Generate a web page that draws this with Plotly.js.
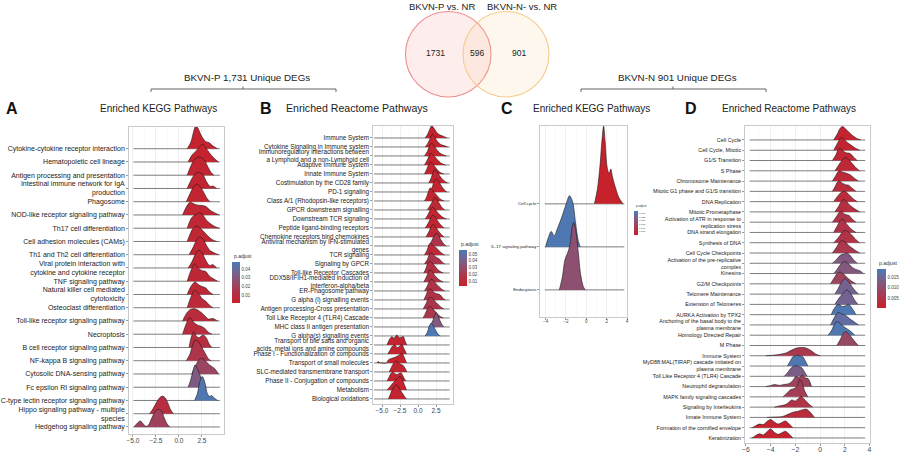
<!DOCTYPE html>
<html><head><meta charset="utf-8">
<script src="https://cdn.plot.ly/plotly-3.0.1.min.js"></script>
<style>html,body{margin:0;padding:0;background:#fff;} #chart{width:900px;height:452px;}</style>
</head><body><div id="chart"></div>
<script>
// ---------------- Panel A : KEGG (BKVN-P) ----------------
const A_terms = ["Cytokine-cytokine receptor interaction","Hematopoietic cell lineage","Antigen processing and presentation","Intestinal immune network for IgA<br>production","Phagosome","NOD-like receptor signaling pathway","Th17 cell differentiation","Cell adhesion molecules (CAMs)","Th1 and Th2 cell differentiation","Viral protein interaction with<br>cytokine and cytokine receptor","TNF signaling pathway","Natural killer cell mediated<br>cytotoxicity","Osteoclast differentiation","Toll-like receptor signaling pathway","Necroptosis","B cell receptor signaling pathway","NF-kappa B signaling pathway","Cytosolic DNA-sensing pathway","Fc epsilon RI signaling pathway","C-type lectin receptor signaling pathway","Hippo signaling pathway - multiple<br>species","Hedgehog signaling pathway"];
const A_padj = [0.003,0.003,0.004,0.004,0.004,0.005,0.005,0.005,0.005,0.005,0.006,0.006,0.007,0.008,0.009,0.010,0.014,0.022,0.032,0.046,0.010,0.020];
const A_ridgeX = [
 [0.9,1.3,1.6,1.85,2.1,2.5,2.9,3.3,3.7,4.2],
 [1.0,1.4,1.8,2.2,2.55,2.9,3.3,3.8,4.3],
 [0.9,1.3,1.7,2.2,2.7,3.1,3.5,3.8],
 [0.9,1.3,1.7,2.15,2.6,3.0,3.4,3.7,4.1],
 [0.8,1.2,1.6,1.9,2.3,2.7,3.1,3.4],
 [0.4,0.8,1.2,1.6,2.0,2.5,2.9,3.4,3.9,4.4],
 [0.9,1.3,1.6,1.9,2.2,2.6,3.0,3.5,4.0,4.4],
 [0.9,1.3,1.6,1.9,2.3,2.7,3.1,3.6,4.1],
 [1.1,1.5,1.9,2.2,2.6,3.0,3.4,3.8,4.3],
 [1.0,1.4,1.8,2.15,2.5,2.9,3.3,3.7,4.1],
 [0.9,1.3,1.7,2.1,2.5,2.9,3.3,3.7,4.2],
 [0.9,1.3,1.75,2.1,2.5,2.9,3.3,3.7],
 [0.9,1.3,1.7,2.1,2.5,2.9,3.3,3.7],
 [0.4,0.8,1.2,1.6,2.0,2.4,2.8,3.2,3.7,4.2],
 [0.4,0.8,1.2,1.6,2.0,2.4,2.8,3.2,3.6],
 [1.1,1.35,1.6,1.9,2.2,2.5,2.7,3.0,3.3,3.6],
 [0.8,1.2,1.5,1.75,2.1,2.5,2.9,3.2,3.5],
 [1.4,1.8,2.1,2.45,2.8,3.2,3.6,3.9,4.3],
 [1.0,1.3,1.55,1.75,2.0,2.3,2.6,2.9],
 [1.7,2.0,2.3,2.55,2.8,3.1,3.35,3.55,3.8,4.2],
 [-3.2,-2.8,-2.4,-2.1,-1.8,-1.5,-1.2,-0.9,-0.6],
 [-4.9,-4.5,-4.2,-3.9,-3.6,-3.3,-3.0,-2.6,-2.2,-1.9,-1.6,-1.3,-1.0]
];
const A_ridgeH = [
 [0,0.5,1.3,1.76,1.5,0.9,0.55,0.45,0.2,0],
 [0,0.5,0.8,1.1,1.33,1.1,0.7,0.3,0],
 [0,0.7,1.2,1.38,1.2,0.7,0.2,0],
 [0,0.6,1.05,1.23,1.05,0.5,0.15,0.18,0],
 [0,0.6,1.15,1.33,1.15,0.7,0.2,0],
 [0,0.6,0.96,0.85,0.75,0.72,0.65,0.35,0.15,0],
 [0,0.7,0.95,1.05,1.18,1.0,0.6,0.3,0.1,0],
 [0,0.7,1.05,1.16,1.0,0.75,0.45,0.15,0],
 [0,0.5,1.1,1.33,1.2,0.7,0.3,0.15,0],
 [0,0.45,1.05,1.33,1.15,0.6,0.2,0.25,0],
 [0,0.8,1.3,1.0,0.8,0.75,0.4,0.2,0],
 [0,0.6,0.95,0.75,0.6,0.5,0.2,0],
 [0,0.8,1.3,1.1,0.7,0.5,0.2,0],
 [0,0.55,0.85,0.93,0.85,0.65,0.4,0.15,0.18,0],
 [0,0.8,1.26,0.9,0.7,0.6,0.45,0.15,0],
 [0,0.8,1.18,0.85,0.75,0.9,0.93,0.7,0.25,0],
 [0,0.5,1.2,1.56,1.45,1.0,0.5,0.15,0],
 [0,0.6,1.0,1.18,1.05,0.75,0.55,0.4,0],
 [0,0.6,1.3,1.69,1.4,0.9,0.4,0],
 [0,0.5,1.5,1.81,1.4,0.5,0.3,0.38,0.2,0],
 [0,0.4,0.9,1.2,1.33,1.2,0.8,0.3,0],
 [0,0.3,0.45,0.25,0.05,0.15,0.6,1.15,1.33,1.2,0.7,0.25,0]
];
const A_span = [-4.95, 4.45];
const A_cbTicks = [0.01,0.02,0.03,0.04];

// ---------------- Panel B : Reactome (BKVN-P) ----------------
const B_terms = ["Immune System","Cytokine Signaling in Immune system","Immunoregulatory interactions between<br>a Lymphoid and a non-Lymphoid cell","Adaptive Immune System","Innate Immune System","Costimulation by the CD28 family","PD-1 signaling","Class A/1 (Rhodopsin-like receptors)","GPCR downstream signalling","Downstream TCR signaling","Peptide ligand-binding receptors","Chemokine receptors bind chemokines","Antiviral mechanism by IFN-stimulated<br>genes","TCR signaling","Signaling by GPCR","Toll-like Receptor Cascades","DDX58/IFIH1-mediated induction of<br>interferon-alpha/beta","ER-Phagosome pathway","G alpha (i) signalling events","Antigen processing-Cross presentation","Toll Like Receptor 4 (TLR4) Cascade","MHC class II antigen presentation","G alpha(s) signalling events","Transport of bile salts and organic<br>acids, metal ions and amine compounds","Phase I - Functionalization of compounds","Transport of small molecules","SLC-mediated transmembrane transport","Phase II - Conjugation of compounds","Metabolism","Biological oxidations"];
const B_padj = [0.004,0.004,0.005,0.005,0.005,0.006,0.006,0.006,0.009,0.007,0.007,0.008,0.018,0.010,0.018,0.014,0.016,0.017,0.016,0.018,0.019,0.036,0.054,0.006,0.006,0.005,0.006,0.006,0.005,0.006];
const B_ridgeX = [
 [1.0,1.4,1.7,1.9,2.2,2.6,3.0,3.5,4.0],
 [1.0,1.4,1.7,2.0,2.3,2.7,3.1,3.6,4.1],
 [0.9,1.3,1.6,1.9,2.2,2.6,3.0,3.4,3.9],
 [0.9,1.3,1.6,1.8,2.1,2.5,2.9,3.3,3.8],
 [0.9,1.2,1.5,1.75,2.0,2.4,2.8,3.2,3.6],
 [1.5,1.8,2.1,2.35,2.6,2.9,3.3,3.7,4.1],
 [1.7,2.0,2.25,2.5,2.75,3.0,3.3,3.7,4.0],
 [0.9,1.2,1.5,1.7,2.0,2.4,2.8,3.2,3.6],
 [1.3,1.6,1.9,2.15,2.35,2.6,2.9,3.3,3.7],
 [1.0,1.4,1.7,2.0,2.3,2.7,3.1,3.5,3.9],
 [1.0,1.4,1.7,2.05,2.4,2.8,3.2,3.6],
 [1.1,1.5,1.8,2.1,2.4,2.8,3.2,3.6],
 [1.4,1.8,2.1,2.5,2.8,3.1,3.5,3.9],
 [0.9,1.25,1.5,1.75,2.1,2.5,2.9,3.3,3.7],
 [0.9,1.3,1.55,1.8,2.1,2.5,2.9,3.3,3.7],
 [0.8,1.1,1.35,1.6,1.9,2.3,2.7,3.1,3.5],
 [0.8,1.1,1.4,1.65,1.95,2.3,2.7,3.1,3.5],
 [0.9,1.2,1.5,1.8,2.1,2.5,2.9,3.3,3.7],
 [0.8,1.1,1.4,1.7,2.0,2.4,2.8,3.1,3.4,3.8],
 [0.7,1.0,1.35,1.65,2.0,2.4,2.8,3.2,3.6],
 [0.7,1.0,1.3,1.6,1.9,2.3,2.7,3.1,3.5],
 [1.5,1.8,2.1,2.35,2.5,2.7,3.0,3.3,3.6],
 [1.0,1.3,1.55,1.8,2.05,2.3,2.6,2.9,3.1],
 [-4.3,-4.0,-3.65,-3.3,-2.95,-2.6,-2.3,-2.05,-1.8,-1.55],
 [-4.2,-3.9,-3.55,-3.2,-2.9,-2.55,-2.25,-1.95,-1.6],
 [-5.7,-5.5,-5.3,-5.0,-4.4,-4.1,-3.7,-3.3,-2.9,-2.5,-2.2,-1.9,-1.6],
 [-4.0,-3.7,-3.4,-3.0,-2.7,-2.4,-2.1,-1.8,-1.55],
 [-4.3,-4.0,-3.75,-3.5,-3.2,-2.9,-2.6,-2.35,-2.0,-1.7],
 [-4.3,-3.9,-3.5,-3.1,-2.8,-2.5,-2.2,-1.9,-1.6],
 [-4.1,-3.8,-3.5,-3.2,-3.0,-2.7,-2.4,-2.1,-1.8,-1.6]
];
const B_ridgeH = [
 [0,0.5,1.1,1.37,1.1,0.6,0.35,0.2,0],
 [0,0.45,1.0,1.4,1.1,0.6,0.3,0.15,0],
 [0,0.5,1.1,1.4,1.2,0.7,0.35,0.15,0],
 [0,0.55,1.1,1.3,1.1,0.75,0.4,0.15,0],
 [0,0.5,1.05,1.3,1.15,0.75,0.35,0.12,0],
 [0,0.5,1.2,1.5,1.3,0.9,0.5,0.2,0],
 [0,0.6,1.2,1.45,1.3,1.0,0.6,0.2,0],
 [0,0.45,1.15,1.45,1.2,0.8,0.45,0.15,0],
 [0,0.4,0.8,1.15,1.4,1.2,0.8,0.3,0],
 [0,0.5,1.0,1.3,1.15,0.75,0.4,0.15,0],
 [0,0.5,1.0,1.4,1.2,0.7,0.3,0],
 [0,0.55,1.1,1.4,1.15,0.7,0.3,0],
 [0,0.4,0.9,1.37,1.25,0.8,0.3,0],
 [0,0.5,1.05,1.3,1.05,0.8,0.5,0.2,0],
 [0,0.5,1.0,1.25,1.05,0.75,0.6,0.25,0],
 [0,0.5,1.05,1.3,1.15,0.8,0.4,0.15,0],
 [0,0.45,1.0,1.35,1.2,0.75,0.4,0.15,0],
 [0,0.4,0.95,1.3,1.2,0.8,0.5,0.2,0],
 [0,0.5,1.05,1.25,1.0,0.75,0.65,0.55,0.25,0],
 [0,0.4,1.0,1.3,1.2,0.8,0.5,0.2,0],
 [0,0.45,1.0,1.3,1.15,0.8,0.45,0.15,0],
 [0,0.3,0.8,1.35,1.6,1.4,0.8,0.3,0],
 [0,0.4,1.05,1.4,1.25,0.85,0.4,0.1,0],
 [0,0.55,0.9,0.75,1.1,0.8,0.85,0.95,0.45,0],
 [0,0.4,0.85,1.0,0.7,0.85,1.05,0.6,0],
 [0,0.15,0.03,0,0,0.35,0.5,0.6,0.75,0.95,1.05,0.6,0],
 [0,0.5,0.95,1.2,1.0,0.85,0.75,0.4,0],
 [0,0.45,0.85,1.0,0.8,0.7,0.85,0.9,0.4,0],
 [0,0.35,0.75,1.05,1.3,1.5,1.2,0.6,0],
 [0,0.6,1.15,1.45,1.55,1.3,0.9,0.55,0.2,0]
];
const B_span = [-6.1, 4.4];
const B_cbTicks = [0.01,0.02,0.03,0.04,0.05];

// ---------------- Panel C : KEGG (BKVN-N) ----------------
const C_terms = ["Cell cycle","IL-17 signaling pathway","Endocytosis"];
const C_padj = [0.0005,0.032,0.018];
const C_ridgeX = [
 [0.8,1.1,1.35,1.55,1.7,1.85,2.05,2.25,2.4,2.6,2.9,3.2,3.6],
 [-4.0,-3.75,-3.45,-3.15,-2.8,-2.4,-2.0,-1.65,-1.35,-1.05,-0.8,-0.6],
 [-2.65,-2.35,-2.1,-1.85,-1.6,-1.4,-1.25,-1.05,-0.8,-0.55,-0.3,-0.1]
];
const C_ridgeH = [
 [0,0.35,0.9,1.5,1.81,1.45,0.85,0.7,0.81,0.6,0.35,0.15,0],
 [0,0.2,0.36,0.26,0.45,0.7,0.98,1.19,1.05,0.55,0.15,0],
 [0,0.3,0.7,0.85,1.05,1.45,1.57,1.4,0.9,0.35,0.08,0]
];
const C_span = [-4.07, 3.73];
const C_cbTicks = [0.005,0.010,0.015,0.020,0.025,0.030];

// ---------------- Panel D : Reactome (BKVN-N) ----------------
const D_terms = ["Cell Cycle","Cell Cycle, Mitotic","G1/S Transition","S Phase","Chromosome Maintenance","Mitotic G1 phase and G1/S transition","DNA Replication","Mitotic Prometaphase","Activation of ATR in response to<br>replication stress","DNA strand elongation","Synthesis of DNA","Cell Cycle Checkpoints","Activation of the pre-replicative<br>complex","Kinesins","G2/M Checkpoints","Telomere Maintenance","Extension of Telomeres","AURKA Activation by TPX2","Anchoring of the basal body to the<br>plasma membrane","Homology Directed Repair","M Phase","Immune System","MyD88:MAL(TIRAP) cascade initiated on<br>plasma membrane","Toll Like Receptor 4 (TLR4) Cascade","Neutrophil degranulation","MAPK family signaling cascades","Signaling by Interleukins","Innate Immune System","Formation of the cornified envelope","Keratinization"];
const D_padj = [0.001,0.0015,0.002,0.002,0.0025,0.003,0.003,0.004,0.005,0.005,0.005,0.006,0.012,0.012,0.008,0.014,0.014,0.018,0.016,0.018,0.009,0.006,0.018,0.013,0.008,0.007,0.005,0.003,0.001,0.001];
const D_ridgeX = [
 [1.1,1.4,1.6,1.8,2.0,2.3,2.6,2.9,3.3],
 [1.1,1.35,1.55,1.7,1.95,2.2,2.5,2.8,3.2],
 [1.0,1.3,1.45,1.6,1.85,2.1,2.4,2.7,3.0],
 [1.2,1.5,1.8,2.05,2.3,2.6,2.9,3.2],
 [1.0,1.25,1.45,1.6,1.85,2.15,2.45,2.8,3.1],
 [1.0,1.25,1.4,1.55,1.8,2.05,2.3,2.6,2.9],
 [1.1,1.4,1.65,1.9,2.15,2.4,2.7,3.0],
 [1.2,1.5,1.7,1.9,2.15,2.45,2.8,3.2],
 [1.0,1.3,1.55,1.75,1.95,2.2,2.35,2.6,2.9],
 [1.1,1.35,1.6,1.8,2.0,2.3,2.6,2.9],
 [1.1,1.45,1.75,2.0,2.3,2.6,2.9,3.2],
 [1.0,1.3,1.55,1.8,2.1,2.4,2.8,3.2],
 [1.0,1.35,1.6,1.75,1.95,2.15,2.4,2.7,3.0],
 [1.1,1.4,1.7,2.0,2.3,2.6,2.9,3.25,3.5],
 [0.85,1.1,1.35,1.6,1.9,2.2,2.5,2.9],
 [1.2,1.45,1.7,2.0,2.3,2.6,2.9,3.1],
 [1.2,1.5,1.8,2.15,2.45,2.75,3.05],
 [0.9,1.15,1.45,1.8,2.05,2.3,2.6,2.9],
 [0.85,1.1,1.45,1.8,2.1,2.4,2.75,3.1],
 [0.65,0.95,1.15,1.35,1.6,1.9,2.2,2.5,2.8],
 [1.35,1.6,1.85,2.05,2.3,2.6,2.9,3.1],
 [-4.4,-3.8,-3.2,-2.7,-2.3,-1.9,-1.6,-1.2,-0.8,-0.4,0.0],
 [-2.65,-2.4,-2.2,-2.0,-1.8,-1.6,-1.4,-1.2,-1.0],
 [-2.9,-2.6,-2.35,-2.1,-1.9,-1.7,-1.5,-1.3,-1.05],
 [-4.4,-4.0,-3.7,-3.3,-2.9,-2.5,-2.2,-1.95,-1.7,-1.45,-1.2,-0.95,-0.7],
 [-3.0,-2.7,-2.4,-2.1,-1.85,-1.65,-1.45,-1.25,-1.0],
 [-3.7,-3.3,-2.9,-2.6,-2.3,-2.0,-1.8,-1.55,-1.3,-1.0,-0.6],
 [-4.3,-3.6,-3.0,-2.6,-2.2,-1.8,-1.4,-1.1,-0.8,-0.45],
 [-5.5,-5.2,-4.9,-4.6,-4.3,-4.0,-3.7,-3.4,-3.1,-2.8,-2.5,-2.2],
 [-5.5,-5.2,-4.9,-4.6,-4.3,-4.0,-3.7,-3.4,-3.1,-2.8,-2.5,-2.2]
];
const D_ridgeH = [
 [0,0.6,1.1,1.3,1.15,0.8,0.45,0.2,0],
 [0,0.55,1.0,1.23,1.05,0.75,0.5,0.25,0],
 [0,0.6,1.05,1.2,0.95,0.75,0.7,0.35,0],
 [0,0.55,1.05,1.3,1.1,0.7,0.3,0],
 [0,0.5,0.9,1.0,0.85,0.75,0.6,0.25,0],
 [0,0.55,0.9,1.0,0.8,0.65,0.6,0.3,0],
 [0,0.5,0.85,1.0,0.9,0.6,0.25,0],
 [0,0.55,1.0,1.2,1.0,0.6,0.3,0],
 [0,0.5,0.95,1.05,0.8,0.7,0.65,0.3,0],
 [0,0.55,1.1,1.3,1.05,0.6,0.25,0],
 [0,0.45,0.95,1.2,1.05,0.7,0.3,0],
 [0,0.5,1.0,1.2,1.0,0.65,0.3,0],
 [0,0.4,0.75,0.85,0.9,1.0,0.8,0.35,0],
 [0,0.45,0.95,1.17,0.95,0.6,0.4,0.25,0],
 [0,0.5,0.95,1.14,0.95,0.6,0.3,0],
 [0,0.5,1.1,1.5,1.2,0.7,0.25,0],
 [0,0.55,1.0,1.4,1.1,0.5,0],
 [0,0.6,1.0,0.8,0.85,1.0,0.6,0],
 [0,0.6,1.2,1.05,0.9,0.6,0.3,0],
 [0,0.5,1.05,1.33,1.15,0.85,0.6,0.35,0],
 [0,0.5,1.1,1.36,1.15,0.7,0.25,0],
 [0,0.05,0.15,0.3,0.55,0.75,0.8,0.78,0.55,0.2,0],
 [0,0.5,0.9,1.0,1.05,1.0,0.9,0.5,0],
 [0,0.4,0.8,1.0,1.04,0.95,0.85,0.5,0],
 [0,0.1,0.2,0.12,0.2,0.3,0.6,1.0,0.85,1.1,0.85,0.75,0],
 [0,0.35,0.7,0.8,1.05,1.7,1.3,0.6,0],
 [0,0.12,0.2,0.4,0.7,0.6,0.8,1.04,0.8,0.4,0],
 [0,0.04,0.1,0.3,0.5,0.6,0.75,0.8,0.5,0],
 [0,0.2,0.35,0.3,0.6,0.8,0.55,0.35,0.5,0.65,0.35,0],
 [0,0.25,0.4,0.3,0.6,0.87,0.55,0.35,0.5,0.65,0.35,0]
];
const D_span = [-5.7, 3.65];
const D_cbTicks = [0.005,0.010,0.015];

// ---------------- Venn ----------------
const vennSets = ["BKVN-P vs. NR","BKVN-N- vs. NR"];
const vennCounts = [1731, 596, 901];
const bracketLabels = ["BKVN-P 1,731 Unique DEGs","BKVN-N 901 Unique DEGs"];

// ---------------- rendering ----------------
const W = 900, H = 452;
const px = x => x / W, py = y => 1 - y / H;
const FONT = "Liberation Sans, Arial, sans-serif";
const cscale = [[0,'#C8202A'],[0.25,'#B13246'],[0.5,'#944B69'],[0.75,'#736491'],[1,'#4A7BB8']];
function hex2rgb(h){return [parseInt(h.slice(1,3),16),parseInt(h.slice(3,5),16),parseInt(h.slice(5,7),16)];}
function colorFor(v,cmin,cmax){
  let t = Math.max(0,Math.min(1,(v-cmin)/(cmax-cmin)));
  for(let i=1;i<cscale.length;i++){
    if(t<=cscale[i][0]){
      const a=cscale[i-1], b=cscale[i];
      const f=(t-a[0])/(b[0]-a[0]);
      const ca=hex2rgb(a[1]), cb=hex2rgb(b[1]);
      return 'rgb('+ca.map((c,k)=>Math.round(c+(cb[k]-c)*f)).join(',')+')';
    }
  }
  return cscale[cscale.length-1][1];
}

const panels = [
 {key:'A', ax:'', terms:A_terms, padj:A_padj, X:A_ridgeX, Hh:A_ridgeH, span:A_span,
  dom:[129,224,127,434], xr:[-5.43,4.9], dtick:2.5, fmt:'.1f', yr:[-0.53,22.64], tfs:7, xfs:6.5,
  cmin:0.001, cmax:0.048, cbTicks:A_cbTicks, cbDec:2, cb:{x:232,y:262,len:41,th:8,fs:4.5}},
 {key:'B', ax:'2', terms:B_terms, padj:B_padj, X:B_ridgeX, Hh:B_ridgeH, span:B_span,
  dom:[373,453,126,404], xr:[-6.25,4.86], dtick:2.5, fmt:'.1f', yr:[-0.56,30.33], tfs:6.3, xfs:6.5,
  cmin:0.003, cmax:0.056, cbTicks:B_cbTicks, cbDec:2, cb:{x:459,y:250,len:36,th:8,fs:4.5}},
 {key:'C', ax:'3', terms:C_terms, padj:C_padj, X:C_ridgeX, Hh:C_ridgeH, span:C_span,
  dom:[540,627,126,317], xr:[-4.55,4.0], dtick:2, fmt:'d', yr:[-0.63,3.81], tfs:4.3, xfs:4.5,
  cmin:0.0, cmax:0.033, cbTicks:C_cbTicks, cbDec:3, cb:{x:634,y:211,len:24,th:4,fs:2.5}},
 {key:'D', ax:'4', terms:D_terms, padj:D_padj, X:D_ridgeX, Hh:D_ridgeH, span:D_span,
  dom:[745,870,126,443], xr:[-6.08,4.04], dtick:2, fmt:'d', yr:[-0.49,30.36], tfs:5.4, xfs:6.8,
  cmin:0.0002, cmax:0.0188, cbTicks:D_cbTicks, cbDec:3, cb:{x:877,y:269,len:39,th:9,fs:4.6}}
];

const traces = [];
const layout = {
  width:W, height:H, margin:{l:0,r:0,t:0,b:0}, showlegend:false,
  paper_bgcolor:'#fff', plot_bgcolor:'#fff', hovermode:false,
  font:{family:FONT, color:'#222'}, annotations:[], shapes:[]
};

panels.forEach(p => {
  const n = p.terms.length;
  const xa = 'x'+p.ax, ya = 'y'+p.ax;
  for(let i=0;i<n;i++){
    const base = n-1-i;
    traces.push({type:'scatter', mode:'lines', x:p.span, y:[base,base], xaxis:xa, yaxis:ya,
      line:{color:'#6e6e6e', width:0.9}, hoverinfo:'skip'});
    traces.push({type:'scatter', mode:'lines', x:p.X[i], y:p.Hh[i].map(h=>base+h), xaxis:xa, yaxis:ya,
      fill:'toself', fillcolor:colorFor(p.padj[i],p.cmin,p.cmax),
      line:{color:'#1a1a1a', width:0.6, shape:'spline', smoothing:0.9}, hoverinfo:'skip'});
  }
  // colorbar carrier
  traces.push({type:'scatter', mode:'markers', x:[p.span[0]], y:[0], xaxis:xa, yaxis:ya,
    marker:{size:1, opacity:0, color:[p.cmin], cmin:p.cmin, cmax:p.cmax, colorscale:cscale, showscale:true,
      colorbar:{x:px(p.cb.x), xanchor:'left', y:py(p.cb.y), yanchor:'top', len:p.cb.len, lenmode:'pixels',
        thickness:p.cb.th, thicknessmode:'pixels', outlinewidth:0, xpad:0, ypad:0, ticks:'', ticklen:0,
        tickvals:p.cbTicks, ticktext:p.cbTicks.map(v=>v.toFixed(p.cbDec)), tickfont:{size:p.cb.fs, color:'#444', family:FONT}}},
    hoverinfo:'skip'});
  layout.annotations.push({xref:'paper', yref:'paper', x:px(p.cb.x), y:py(p.cb.y-1), xanchor:'left', yanchor:'bottom',
    text:'p.adjust', showarrow:false, font:{size:p.cb.fs+0.5, color:'#333'}});

  const [l,r,t,b] = p.dom;
  const minorD = p.dtick/2;
  layout['xaxis'+p.ax] = {domain:[px(l),px(r)], anchor:ya, range:p.xr, dtick:p.dtick, tick0:0,
    tickformat:p.fmt, showgrid:true, gridcolor:'#E6E6E6', gridwidth:0.6,
    minor:{dtick:minorD, tick0:0, showgrid:true, gridcolor:'#F2F2F2', gridwidth:0.5},
    zeroline:false, showline:true, mirror:true, linecolor:'#BDBDBD', linewidth:0.8,
    ticks:'outside', ticklen:2, tickcolor:'#555', tickwidth:0.6, ticklabelstandoff:-2,
    tickfont:{size:p.xfs, color:'#444'}};
  layout['yaxis'+p.ax] = {domain:[py(b),py(t)], anchor:xa, range:p.yr,
    tickvals:p.terms.map((_,i)=>n-1-i), ticktext:p.terms,
    showgrid:false, zeroline:false, showline:true, mirror:true, linecolor:'#BDBDBD', linewidth:0.8,
    ticks:'outside', ticklen:2, tickcolor:'#555', tickwidth:0.6,
    tickfont:{size:p.tfs, color:'#222'}};
});

// titles and panel letters
const titles = [
  ['A', 12, 'Enriched KEGG Pathways', 158, 10],
  ['B', 266, 'Enriched Reactome Pathways', 357, 10.6],
  ['C', 507, 'Enriched KEGG Pathways', 591, 10],
  ['D', 691, 'Enriched Reactome Pathways', 789, 10]
];
titles.forEach(t => {
  layout.annotations.push({xref:'paper', yref:'paper', x:px(t[1]), y:py(108), text:'<b>'+t[0]+'</b>',
    showarrow:false, xanchor:'center', yanchor:'middle', font:{size:16, color:'#111', family:'Liberation Sans, Arial'}});
  layout.annotations.push({xref:'paper', yref:'paper', x:px(t[3]), y:py(108), text:t[2],
    showarrow:false, xanchor:'center', yanchor:'middle', font:{size:t[4], color:'#222'}});
});

// Venn diagram
layout.shapes.push({type:'circle', xref:'paper', yref:'paper', x0:px(405.5), x1:px(491), y0:py(97), y1:py(11.5),
  line:{color:'#EE8C8E', width:1.1}, fillcolor:'rgba(240,130,130,0.14)', layer:'below'});
layout.shapes.push({type:'circle', xref:'paper', yref:'paper', x0:px(463), x1:px(549), y0:py(97), y1:py(11.5),
  line:{color:'#F6CB8C', width:1.1}, fillcolor:'rgba(250,205,140,0.16)', layer:'below'});
layout.annotations.push({xref:'paper', yref:'paper', x:px(442), y:py(6), text:vennSets[0], showarrow:false,
  xanchor:'center', yanchor:'middle', font:{size:9.5, color:'#222'}});
layout.annotations.push({xref:'paper', yref:'paper', x:px(522), y:py(6), text:vennSets[1], showarrow:false,
  xanchor:'center', yanchor:'middle', font:{size:9.5, color:'#222'}});
[[435,vennCounts[0]],[477,vennCounts[1]],[519,vennCounts[2]]].forEach(c => {
  layout.annotations.push({xref:'paper', yref:'paper', x:px(c[0]), y:py(53), text:String(c[1]), showarrow:false,
    xanchor:'center', yanchor:'middle', font:{size:8.5, color:'#222'}});
});

// brackets
[[151,336,243,247,bracketLabels[0]],[581,766,673,677,bracketLabels[1]]].forEach(br => {
  const [x0,x1,xm,xt,lab] = br;
  const ln = {color:'#555', width:0.9};
  layout.shapes.push({type:'line', xref:'paper', yref:'paper', x0:px(x0), x1:px(x1), y0:py(89), y1:py(89), line:ln});
  layout.shapes.push({type:'line', xref:'paper', yref:'paper', x0:px(x0), x1:px(x0), y0:py(89), y1:py(92), line:ln});
  layout.shapes.push({type:'line', xref:'paper', yref:'paper', x0:px(x1), x1:px(x1), y0:py(89), y1:py(92), line:ln});
  layout.shapes.push({type:'line', xref:'paper', yref:'paper', x0:px(xm), x1:px(xm), y0:py(86.5), y1:py(89), line:ln});
  layout.annotations.push({xref:'paper', yref:'paper', x:px(xt), y:py(78), text:lab, showarrow:false,
    xanchor:'center', yanchor:'middle', font:{size:9.8, color:'#222'}});
});

Plotly.newPlot('chart', traces, layout, {staticPlot:true, displayModeBar:false});
</script></body></html>
